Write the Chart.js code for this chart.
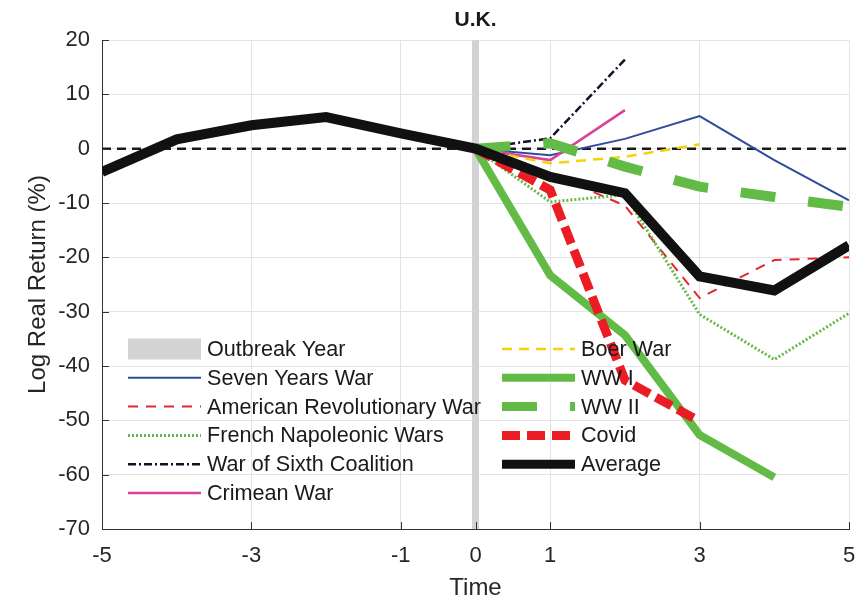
<!DOCTYPE html>
<html>
<head>
<meta charset="utf-8">
<script src="https://cdn.jsdelivr.net/npm/chart.js@4/dist/chart.umd.min.js"></script>
<style>
  html, body { margin: 0; padding: 0; background: #fff; }
  #wrap { width: 856px; height: 605px; }
</style>
</head>
<body>
<div id="wrap"><canvas id="ukChart" width="856" height="605"></canvas></div>
<script>
// time axis (years around outbreak)
const preYears = [-5, -4, -3, -2, -1, 0, 1, 2, 3, 4, 5];
const postYears = [0, 1, 2, 3, 4, 5];
const xTicks = [-5, -3, -1, 0, 1, 3, 5];
const yTicks = [-70, -60, -50, -40, -30, -20, -10, 0, 10, 20];

// log real return (%) per war
const sevenYears = [0, -1.2, 1.8, 6, -2.1, -9.5];
const americanRev = [0, -4.5, -10.5, -27.5, -20.5, -20];
const frenchNapoleonic = [0, -9.8, -8.5, -30.5, -38.8, -30.3];
const sixthCoalition = [0, 1.9, 16.4];
const crimean = [0, -2.1, 7.1];
const boer = [0, -2.7, -1.5, 0.8];
const ww1 = [0, -23.3, -34.3, -52.7, -60.5];
const ww2 = [0, 1.0, -3.3, -7.0, -8.9, -10.7];
const covid = [0, -7.6, -42.6, -50.2];
const average = [-4.3, 1.7, 4.3, 5.8, 2.8, 0, -5.2, -8.2, -23.5, -26.1, -17.8];

const pts = (xs, ys) => ys.map((y, i) => ({ x: xs[i], y: y }));

const datasets = [
  { label: 'Outbreak Year', data: [{ x: 0, y: -70 }, { x: 0, y: 20 }], borderColor: '#d3d3d6', borderWidth: 7, legendBox: true },
  { label: 'Seven Years War', data: pts(postYears, sevenYears), borderColor: '#2f4b9c', borderWidth: 2 },
  { label: 'American Revolutionary War', data: pts(postYears, americanRev), borderColor: '#e6262b', borderWidth: 2, borderDash: [10, 8] },
  { label: 'French Napoleonic Wars', data: pts(postYears, frenchNapoleonic), borderColor: '#66b949', borderWidth: 3, borderDash: [2, 2] },
  { label: 'War of Sixth Coalition', data: pts(postYears, sixthCoalition), borderColor: '#10112a', borderWidth: 2.5, borderDash: [8, 3, 2, 3] },
  { label: 'Crimean War', data: pts(postYears, crimean), borderColor: '#d8429c', borderWidth: 2.5 },
  { label: 'Boer War', data: pts(postYears, boer), borderColor: '#f4d20c', borderWidth: 2.5, borderDash: [10, 7] },
  { label: 'WW I', data: pts(postYears, ww1), borderColor: '#62bb46', borderWidth: 8 },
  { label: 'WW II', data: pts(postYears, ww2), borderColor: '#62bb46', borderWidth: 10, borderDash: [35, 33] },
  { label: 'Covid', data: pts(postYears, covid), borderColor: '#ec1c24', borderWidth: 9, borderDash: [18, 7] },
  { label: 'Average', data: pts(preYears, average), borderColor: '#111111', borderWidth: 10 }
];

// zero reference line, not in legend
const zeroLine = { label: 'zero', data: [{ x: -5, y: 0 }, { x: 5, y: 0 }], borderColor: '#1a1a1a', borderWidth: 2.5, borderDash: [9, 6] };

const all = [datasets[0], zeroLine].concat(datasets.slice(1));
all.forEach((d, i) => {
  d.showLine = true;
  d.pointRadius = 0;
  d.pointHoverRadius = 0;
  d.fill = false;
  d.tension = 0;
  d.borderCapStyle = 'butt';
  d.borderJoinStyle = 'miter';
  d.order = all.length - i;
});

// two column legend inside the plot, like the original
const colLegend = {
  id: 'colLegend',
  afterDraw(chart) {
    const ctx = chart.ctx;
    const cols = [datasets.slice(0, 6), datasets.slice(6)];
    const colX = [128, 502];
    const top = 349, rowH = 28.8, sampleW = 73;
    ctx.save();
    ctx.font = '21.6px "Liberation Sans", Arial, sans-serif';
    ctx.textBaseline = 'middle';
    cols.forEach((items, c) => {
      items.forEach((d, r) => {
        const x = colX[c], y = top + r * rowH;
        if (d.legendBox) {
          ctx.fillStyle = d.borderColor;
          ctx.fillRect(x, y - 10.5, sampleW, 21);
        } else {
          ctx.beginPath();
          ctx.setLineDash(d.borderDash || []);
          ctx.lineCap = 'butt';
          ctx.strokeStyle = d.borderColor;
          ctx.lineWidth = Math.min(d.borderWidth, 9);
          ctx.moveTo(x, y);
          ctx.lineTo(x + sampleW, y);
          ctx.stroke();
        }
        ctx.setLineDash([]);
        ctx.fillStyle = '#1a1a1a';
        ctx.fillText(d.label, x + sampleW + 6, y + 1);
      });
    });
    ctx.restore();
  }
};

// title and inward tick marks
const decor = {
  id: 'decor',
  afterDraw(chart) {
    const ctx = chart.ctx;
    const a = chart.chartArea;
    const xs = chart.scales.x, ys = chart.scales.y;
    ctx.save();
    ctx.strokeStyle = '#333';
    ctx.lineWidth = 1;
    ctx.beginPath();
    yTicks.forEach(v => {
      const py = Math.round(ys.getPixelForValue(v)) + 0.5;
      ctx.moveTo(a.left, py); ctx.lineTo(a.left + 7, py);
    });
    xTicks.forEach(v => {
      const px = Math.round(xs.getPixelForValue(v)) + 0.5;
      ctx.moveTo(px, a.bottom); ctx.lineTo(px, a.bottom - 7);
    });
    ctx.stroke();
    ctx.fillStyle = '#1a1a1a';
    ctx.font = 'bold 21px "Liberation Sans", Arial, sans-serif';
    ctx.textAlign = 'center';
    ctx.textBaseline = 'middle';
    ctx.fillText('U.K.', (a.left + a.right) / 2, 20);
    ctx.restore();
  }
};

const tickFont = { family: '"Liberation Sans", Arial, sans-serif', size: 22 };
const titleFont = { family: '"Liberation Sans", Arial, sans-serif', size: 24 };

new Chart(document.getElementById('ukChart').getContext('2d'), {
  type: 'scatter',
  data: { datasets: all },
  options: {
    responsive: false,
    animation: false,
    layout: { padding: { top: 40, right: 7, left: 0, bottom: 0 } },
    plugins: {
      legend: { display: false },
      title: { display: false },
      tooltip: { enabled: false }
    },
    scales: {
      x: {
        type: 'linear',
        min: -5,
        max: 5,
        afterBuildTicks: s => { s.ticks = xTicks.map(v => ({ value: v })); },
        afterFit: s => { s.height = 76; s.paddingLeft = 0; s.paddingRight = 0; },
        grid: { color: '#e3e3e3', drawTicks: false },
        border: { color: '#333', width: 1 },
        ticks: { font: tickFont, color: '#262626', padding: 14, maxRotation: 0 },
        title: { display: true, text: 'Time', font: titleFont, color: '#262626', padding: { top: 0, bottom: 2 } }
      },
      y: {
        min: -70,
        max: 20,
        afterBuildTicks: s => { s.ticks = yTicks.map(v => ({ value: v })); },
        afterFit: s => { s.width = 102; s.paddingTop = 0; s.paddingBottom = 0; },
        grid: { color: '#e3e3e3', drawTicks: false },
        border: { color: '#333', width: 1 },
        ticks: { font: tickFont, color: '#262626', padding: 12 },
        title: { display: true, text: 'Log Real Return (%)', font: titleFont, color: '#262626', padding: { top: 24, bottom: 0 } }
      }
    }
  },
  plugins: [colLegend, decor]
});
</script>
</body>
</html>
